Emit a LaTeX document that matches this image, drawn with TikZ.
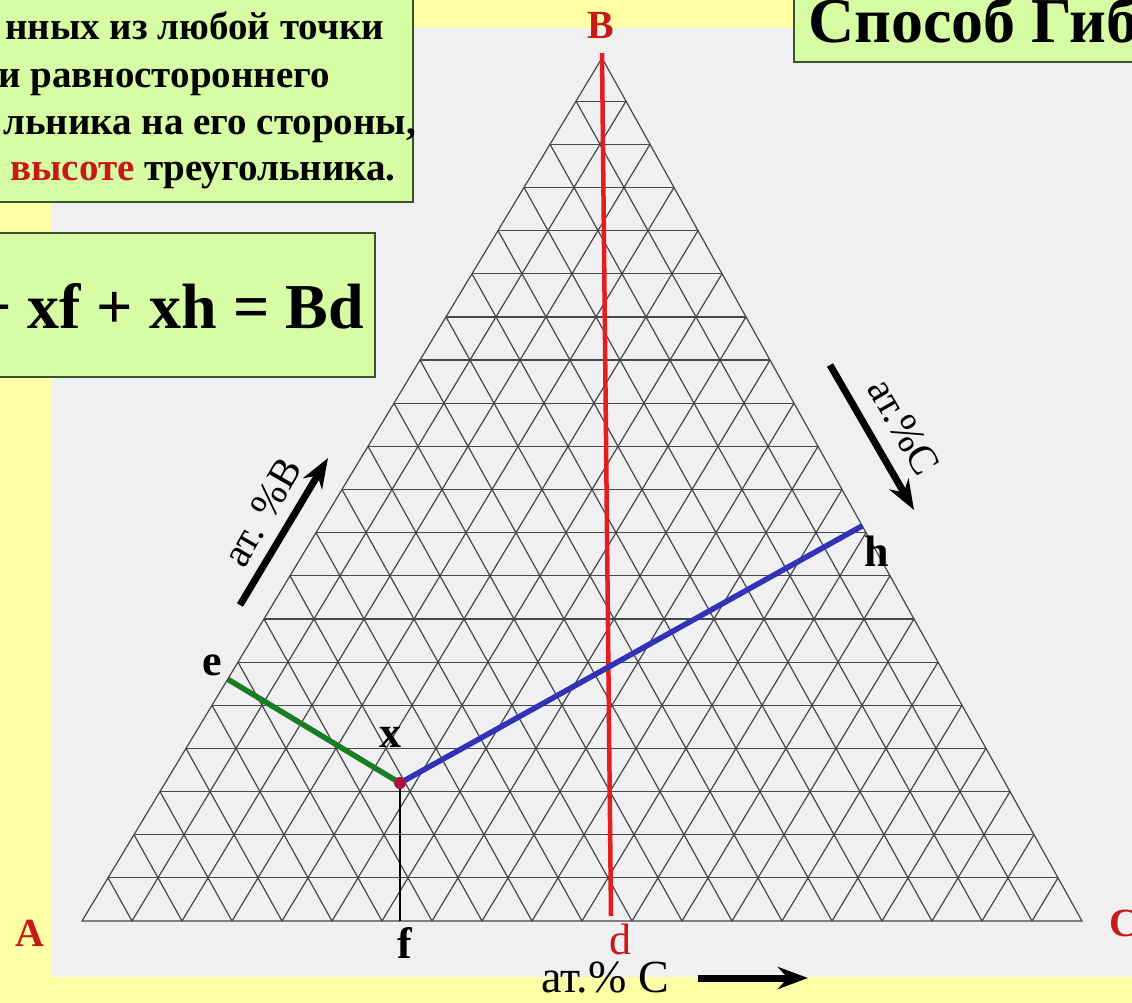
\documentclass[tikz,border=0pt]{standalone}
\usepackage{fontspec}
\setmainfont{Liberation Serif}
\usepackage{tikz}
\usetikzlibrary{arrows.meta,calc,positioning}

\definecolor{pageyellow}{RGB}{255,255,165}
\definecolor{panelgrey}{RGB}{240,240,242}
\definecolor{boxgreen}{RGB}{214,252,164}
\definecolor{boxedge}{RGB}{55,85,40}
\definecolor{labelred}{RGB}{200,25,25}
\definecolor{heightred}{RGB}{228,30,30}
\definecolor{perpgreen}{RGB}{25,125,35}
\definecolor{perpblue}{RGB}{50,50,185}
\definecolor{pointred}{RGB}{170,20,60}

\begin{document}
\begin{tikzpicture}[
  x=1pt,y=-1pt,
  gridline/.style={draw=black!72,line width=1.2pt},
  infobox/.style={fill=boxgreen,draw=boxedge,line width=1.6pt},
  boxtext/.style={anchor=base west,inner sep=0pt,
                  font=\fontsize{39}{44}\selectfont\bfseries},
  vertexlabel/.style={text=labelred,inner sep=0pt,
                      font=\fontsize{40}{40}\selectfont\bfseries},
  pointlabel/.style={inner sep=0pt,font=\fontsize{44}{44}\selectfont\bfseries},
  scalelabel/.style={inner sep=0pt,font=\fontsize{41}{41}\selectfont},
  scalearrow/.style={-{Stealth[length=30pt,width=22pt]},line width=7pt},
  perp/.style={line width=5.5pt},
  xdot/.style={circle,fill=pointred,minimum size=12pt,inner sep=0pt}
]
\useasboundingbox (0,0) rectangle (1132,1003);
\fill[pageyellow] (0,0) rectangle (1132,1003);
\fill[panelgrey] (52,28) rectangle (1140,977);

\coordinate (A) at (82,921);
\coordinate (B) at (602,58);
\coordinate (C) at (1082,921);
\coordinate (X) at (400,783);

% triangular grid, 20 steps per side
\foreach \i in {1,...,19}{
  \draw[gridline] ($(A)!\i/20!(B)$) -- ($(C)!\i/20!(B)$);
  \draw[gridline] ($(A)!\i/20!(C)$) -- ($(B)!\i/20!(C)$);
  \draw[gridline] ($(B)!\i/20!(A)$) -- ($(C)!\i/20!(A)$);
}
\draw[gridline] (A) -- (B) -- (C) -- cycle;

\coordinate (e) at ($(A)!(X)!(B)$);
\coordinate (f) at ($(A)!(X)!(C)$);
\coordinate (h) at ($(B)!(X)!(C)$);
\coordinate (Btop) at (602,53);
\coordinate (d) at (611,916);

\draw[heightred,line width=4.5pt] (Btop) -- (d);
\draw[perp,perpgreen] (X) -- (e);
\draw[perp,perpblue] (X) -- (h);
\draw[black,line width=2.8pt] (X) -- (f);
\node[xdot] (xpt) at (X) {};

\node[vertexlabel] (Alabel) at (30,933) {A};
\node[vertexlabel] (Blabel) at (601,25) {B};
\node[vertexlabel] (Clabel) at (1124,923) {C};
\node[inner sep=0pt,text=labelred,font=\fontsize{44}{44}\selectfont]
  (dlabel) at (620,939) {d};
\node[pointlabel] (elabel) at (212,665) {e};
\node[pointlabel] (xlabel) at (390,737) {x};
\node[pointlabel] (flabel) at (405,943) {f};
\node[pointlabel] (hlabel) at (877,551) {h};

\coordinate (bTail) at (240,605);
\coordinate (bHead) at (328,458);
\draw[scalearrow] (bTail) -- (bHead);
\node[scalelabel,rotate=60] (bScale) at (262,512) {ат. \%B};

\coordinate (cTail) at (830,365);
\coordinate (cHead) at (914,510);
\draw[scalearrow] (cTail) -- (cHead);
\node[scalelabel,rotate=-60] (cScale) at (904,427) {ат.\%C};

\node[scalelabel,font=\fontsize{46}{46}\selectfont] (baseScale) at (605,978) {ат.\% C};
\coordinate (baseTail) at (698,978);
\coordinate (baseHead) at (808,978);
\draw[scalearrow] (baseTail) -- (baseHead);

\draw[infobox] (-10,-10) rectangle (413,202);
\node[boxtext] (rule1) at (5,40) {нных из любой точки};
\node[boxtext] (rule2) at (-2,88) {и равностороннего};
\node[boxtext] (rule3) at (3,135) {льника на его стороны,};
\node[boxtext] (rule4) at (10,181)
  {\textcolor{labelred}{высоте} треугольника.};

\draw[infobox] (-10,233) rectangle (375,377);
\node[anchor=base east,inner sep=0pt,font=\fontsize{64}{64}\selectfont\bfseries]
  (formula) at (364,328) {+ xf + xh = Bd};

\draw[infobox] (794,-10) rectangle (1145,62);
\node[anchor=base west,inner sep=0pt,font=\fontsize{64}{64}\selectfont\bfseries]
  (title) at (808,43) {Способ Гиб};
\end{tikzpicture}
\end{document}
